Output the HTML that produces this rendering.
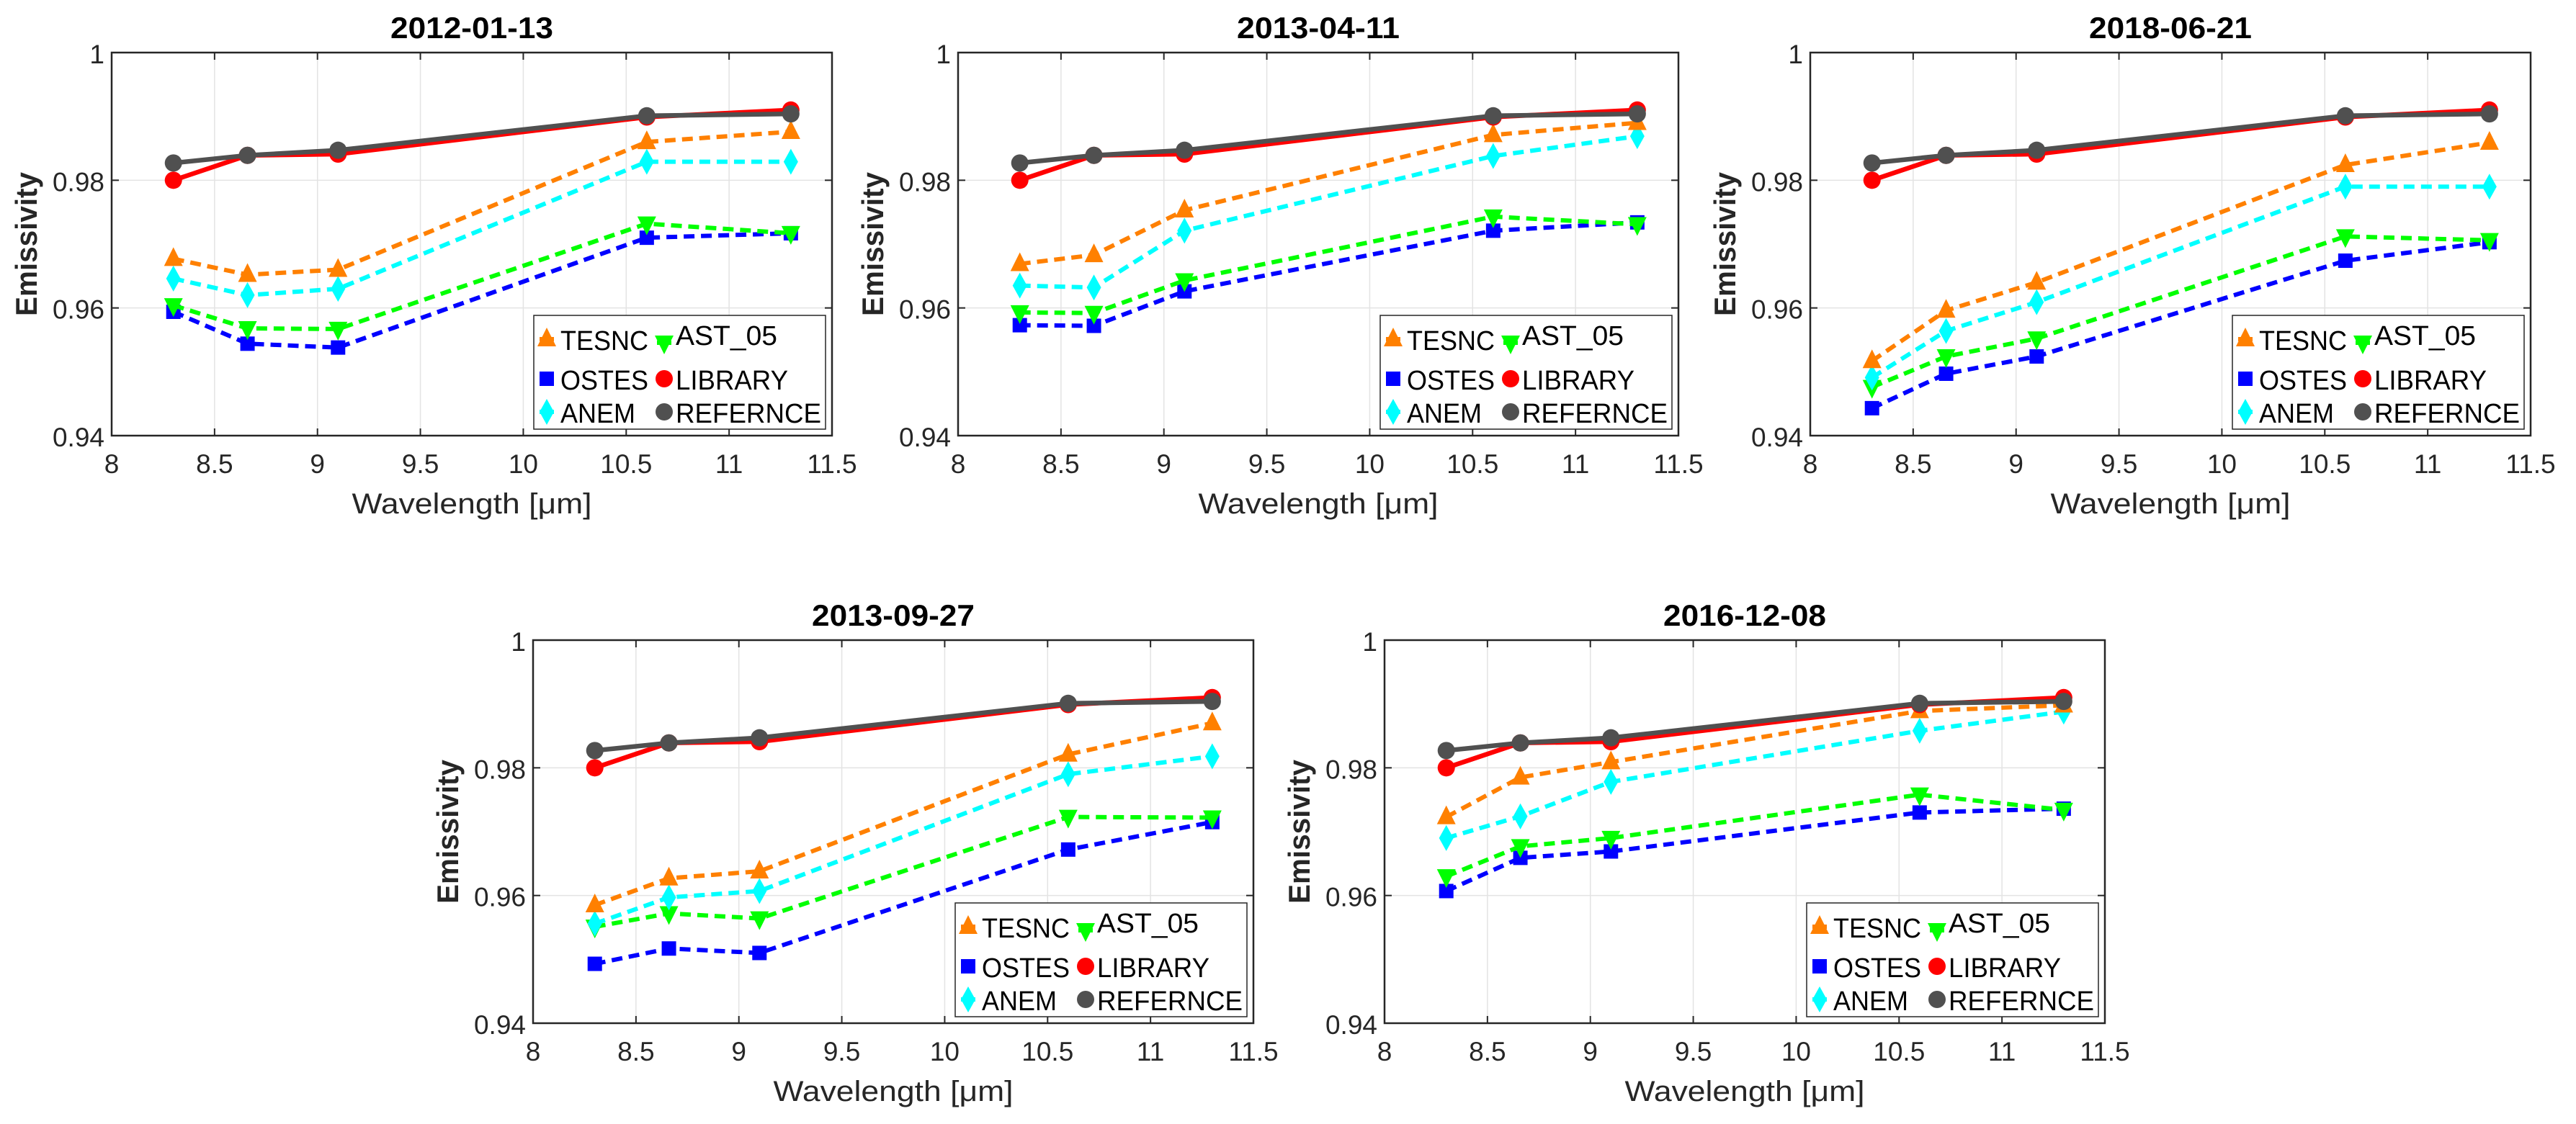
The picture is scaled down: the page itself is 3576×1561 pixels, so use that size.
<!DOCTYPE html>
<html><head><meta charset="utf-8"><style>
html,body{margin:0;padding:0;background:#fff;}
svg{display:block;font-family:"Liberation Sans",Arial,sans-serif;}
</style></head><body>
<svg id="fig" width="3576" height="1561" viewBox="0 0 3576 1561" xmlns="http://www.w3.org/2000/svg"></svg>
<script>
const wavelengths = [8.3, 8.66, 9.1, 10.6, 11.3];
const xTicks = [8, 8.5, 9, 9.5, 10, 10.5, 11, 11.5];
const xTickLabels = ["8","8.5","9","9.5","10","10.5","11","11.5"];
const yTicks = [0.94, 0.96, 0.98, 1];
const yTickLabels = ["0.94","0.96","0.98","1"];
const titles = ["2012-01-13","2013-04-11","2018-06-21","2013-09-27","2016-12-08"];
const refValues = [0.9827, 0.9839, 0.9847, 0.9901, 0.9904];
const libValues = [0.9800, 0.9839, 0.9841, 0.9899, 0.9910];
const tesncValues = [
 [0.9677,0.9652,0.9660,0.9860,0.9876],
 [0.9669,0.9683,0.9753,0.9871,0.9890],
 [0.9517,0.9596,0.9640,0.9824,0.9859],
 [0.9585,0.9627,0.9638,0.9821,0.9870],
 [0.9723,0.9785,0.9809,0.9889,0.9898]];
const anemValues = [
 [0.9646,0.9620,0.9630,0.9829,0.9829],
 [0.9635,0.9632,0.9721,0.9838,0.9869],
 [0.9491,0.9564,0.9609,0.9790,0.9790],
 [0.9556,0.9597,0.9607,0.9790,0.9818],
 [0.9690,0.9724,0.9778,0.9858,0.9888]];
const astValues = [
 [0.9604,0.9568,0.9567,0.9732,0.9717],
 [0.9593,0.9592,0.9643,0.9743,0.9731],
 [0.9476,0.9524,0.9552,0.9712,0.9706],
 [0.9551,0.9572,0.9564,0.9723,0.9722],
 [0.9630,0.9677,0.9690,0.9758,0.9734]];
const ostesValues = [
 [0.9594,0.9544,0.9538,0.9710,0.9717],
 [0.9573,0.9572,0.9626,0.9721,0.9734],
 [0.9443,0.9497,0.9524,0.9674,0.9703],
 [0.9493,0.9517,0.9510,0.9672,0.9715],
 [0.9607,0.9659,0.9669,0.9730,0.9736]];

const NS="http://www.w3.org/2000/svg";
const fig=document.getElementById('fig');
const panels=[[155,73],[1330,73],[2513,73],[740,889],[1922,889]];
const W=1000,H=532;
function mk(tag,attrs,parent){const e=document.createElementNS(NS,tag);for(const k in attrs)e.setAttribute(k,attrs[k]);parent.appendChild(e);return e;}
function marker(g,shape,cx,cy,color){
  let e;
  if(shape==='up') e=mk('polygon',{points:`${cx},${cy-16} ${cx+13},${cy+10} ${cx-13},${cy+10}`,fill:color},g);
  else if(shape==='down') e=mk('polygon',{points:`${cx},${cy+16} ${cx+13},${cy-10} ${cx-13},${cy-10}`,fill:color},g);
  else if(shape==='sq') e=mk('rect',{x:cx-10,y:cy-10,width:20,height:20,fill:color},g);
  else if(shape==='dia') e=mk('polygon',{points:`${cx},${cy-18} ${cx+10},${cy} ${cx},${cy+18} ${cx-10},${cy}`,fill:color},g);
  else e=mk('circle',{cx:cx,cy:cy,r:12,fill:color},g);
  return e;
}
const seriesDefs=[
 {name:'TESNC',color:'#ff8000',shape:'up',dash:true},
 {name:'AST_05',color:'#00ff00',shape:'down',dash:true},
 {name:'OSTES',color:'#0000ff',shape:'sq',dash:true},
 {name:'LIBRARY',color:'#ff0000',shape:'circ',dash:false},
 {name:'ANEM',color:'#00ffff',shape:'dia',dash:true},
 {name:'REFERNCE',color:'#505050',shape:'circ',dash:false}];
panels.forEach((p,pi)=>{
  const [L,T]=p;
  const g=mk('g',{},fig);
  
  
  const xs=v=>L+(v-8)/3.5*W;
  const ys=v=>T+H-(v-0.94)/0.06*H;
  mk('rect',{x:L,y:T,width:W,height:H,fill:'#fff'},g);
  xTicks.forEach((t,i)=>{
    const x=xs(t);
    if(i>0&&i<xTicks.length-1) mk('line',{x1:x,y1:T,x2:x,y2:T+H,stroke:'#e3e3e3','stroke-width':1.5},g);
    mk('line',{x1:x,y1:T+H,x2:x,y2:T+H-10,stroke:'#262626','stroke-width':2},g);
    mk('line',{x1:x,y1:T,x2:x,y2:T+10,stroke:'#262626','stroke-width':2},g);
    const tx=mk('text',{x:x,y:T+H+52,'text-anchor':'middle','font-size':37,fill:'#262626'},g);
    tx.textContent=xTickLabels[i];
    
    
  });
  yTicks.forEach((t,i)=>{
    const y=ys(t);
    if(i>0&&i<yTicks.length-1) mk('line',{x1:L,y1:y,x2:L+W,y2:y,stroke:'#e3e3e3','stroke-width':1.5},g);
    mk('line',{x1:L,y1:y,x2:L+10,y2:y,stroke:'#262626','stroke-width':2},g);
    mk('line',{x1:L+W,y1:y,x2:L+W-10,y2:y,stroke:'#262626','stroke-width':2},g);
    const tx=mk('text',{x:L-10,y:y+15,'text-anchor':'end','font-size':37,fill:'#262626'},g);
    tx.textContent=yTickLabels[i];
    
    
  });
  mk('rect',{x:L,y:T,width:W,height:H,fill:'none',stroke:'#262626','stroke-width':2.5},g);
  const ti=mk('text',{x:L+W/2,y:T-20,'text-anchor':'middle','font-size':42,'font-weight':'bold',fill:'#000',textLength:226,lengthAdjust:'spacingAndGlyphs'},g);
  ti.textContent=titles[pi];
  
  
  const xl=mk('text',{x:L+W/2,y:T+H+108,'text-anchor':'middle','font-size':40,fill:'#262626',textLength:333,lengthAdjust:'spacingAndGlyphs'},g);
  xl.textContent='Wavelength [μm]';
  
  
  const yl=mk('text',{x:0,y:0,'text-anchor':'middle','font-size':42,'font-weight':'bold',fill:'#262626',textLength:200,lengthAdjust:'spacingAndGlyphs',transform:`translate(${L-104},${T+H/2}) rotate(-90)`},g);
  yl.textContent='Emissivity';
  
  
  const dataMap={'TESNC':tesncValues[pi],'AST_05':astValues[pi],'OSTES':ostesValues[pi],'ANEM':anemValues[pi],'LIBRARY':libValues,'REFERNCE':refValues};
  const order=['OSTES','AST_05','ANEM','TESNC','LIBRARY','REFERNCE'];
  order.forEach(nm=>{
    const d=seriesDefs.find(s=>s.name===nm);
    const vals=dataMap[nm];
    const sg=mk('g',{},g);
    
    
    const pts=vals.map((v,i)=>xs(wavelengths[i])+','+ys(v)).join(' ');
    const attrs={points:pts,fill:'none',stroke:d.color,'stroke-width':d.dash?6:6.5};
    if(d.dash) attrs['stroke-dasharray']='15 9';
    mk('polyline',attrs,sg);
    vals.forEach((v,i)=>{marker(sg,d.shape,xs(wavelengths[i]),ys(v),d.color);});
  });
  const lg=mk('g',{},g);
  
  
  const LX=L+586,LY=T+365;
  mk('rect',{x:LX,y:LY,width:405,height:158,fill:'#fff',stroke:'#262626','stroke-width':1.5},lg);
  const entries=[['TESNC',0,33,122],['AST_05',1,26,141],['OSTES',0,88,122],['LIBRARY',1,88,156],['ANEM',0,134,104],['REFERNCE',1,134,202]];
  entries.forEach(e=>{
    const d=seriesDefs.find(s=>s.name===e[0]);
    const eg=mk('g',{},lg);
    
    
    const mx=LX+(e[1]?181:18), my=LY+(e[0]==='AST_05'?38:e[2]);
    mk('line',{x1:mx-10,y1:my,x2:mx+10,y2:my,stroke:d.color,'stroke-width':6},eg);
    marker(eg,d.shape,mx,my,d.color);
    const tx=mk('text',{x:LX+(e[1]?197:37),y:LY+e[2]+15,'font-size':38,fill:'#000',textLength:e[3],lengthAdjust:'spacingAndGlyphs'},eg);
    tx.textContent=e[0];
  });
});
</script>
</body></html>
